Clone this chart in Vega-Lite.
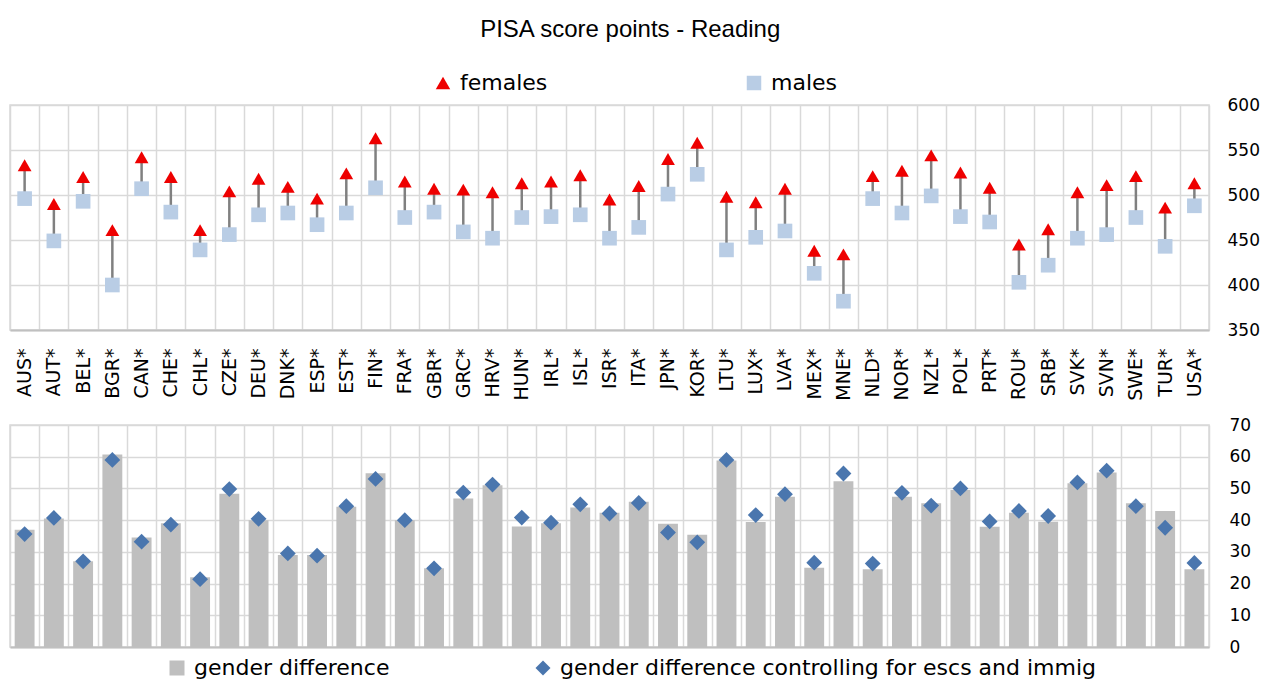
{
  "$schema": "https://vega.github.io/schema/vega-lite/v6.json",
  "background": "white",
  "padding": {"left": 0, "top": 18, "right": 0, "bottom": 0},
  "title": {"text": "PISA score points - Reading", "font": "Liberation Sans", "fontSize": 24, "fontWeight": "normal", "color": "#000000", "anchor": "middle", "offset": 29},
  "datasets": {
    "scores": [
      {"country": "AUS*", "females": 533, "males": 496},
      {"country": "AUT*", "females": 490, "males": 449},
      {"country": "BEL*", "females": 520, "males": 493},
      {"country": "BGR*", "females": 461, "males": 400},
      {"country": "CAN*", "females": 542, "males": 507},
      {"country": "CHE*", "females": 520, "males": 481},
      {"country": "CHL*", "females": 461, "males": 439},
      {"country": "CZE*", "females": 504, "males": 456},
      {"country": "DEU*", "females": 518, "males": 478},
      {"country": "DNK*", "females": 509, "males": 480},
      {"country": "ESP*", "females": 496, "males": 467},
      {"country": "EST*", "females": 524, "males": 480},
      {"country": "FIN*", "females": 563, "males": 508},
      {"country": "FRA*", "females": 515, "males": 475},
      {"country": "GBR*", "females": 507, "males": 481},
      {"country": "GRC*", "females": 506, "males": 459},
      {"country": "HRV*", "females": 503, "males": 452},
      {"country": "HUN*", "females": 513, "males": 475},
      {"country": "IRL*", "females": 515, "males": 476},
      {"country": "ISL*", "females": 522, "males": 478},
      {"country": "ISR*", "females": 495, "males": 452},
      {"country": "ITA*", "females": 510, "males": 464},
      {"country": "JPN*", "females": 540, "males": 501},
      {"country": "KOR*", "females": 558, "males": 523},
      {"country": "LTU*", "females": 498, "males": 439},
      {"country": "LUX*", "females": 492, "males": 453},
      {"country": "LVA*", "females": 507, "males": 460},
      {"country": "MEX*", "females": 438, "males": 413},
      {"country": "MNE*", "females": 434, "males": 382},
      {"country": "NLD*", "females": 521, "males": 496},
      {"country": "NOR*", "females": 527, "males": 480},
      {"country": "NZL*", "females": 544, "males": 499},
      {"country": "POL*", "females": 525, "males": 476},
      {"country": "PRT*", "females": 508, "males": 470},
      {"country": "ROU*", "females": 445, "males": 403},
      {"country": "SRB*", "females": 462, "males": 422},
      {"country": "SVK*", "females": 503, "males": 452},
      {"country": "SVN*", "females": 511, "males": 456},
      {"country": "SWE*", "females": 521, "males": 475},
      {"country": "TUR*", "females": 486, "males": 443},
      {"country": "USA*", "females": 513, "males": 488}
    ],
    "gaps": [
      {"country": "AUS*", "gap": 37, "ctrl": 35.6},
      {"country": "AUT*", "gap": 40.5, "ctrl": 40.7},
      {"country": "BEL*", "gap": 27, "ctrl": 27},
      {"country": "BGR*", "gap": 60.7, "ctrl": 59},
      {"country": "CAN*", "gap": 34.5, "ctrl": 33.2},
      {"country": "CHE*", "gap": 39, "ctrl": 38.6},
      {"country": "CHL*", "gap": 22, "ctrl": 21.4},
      {"country": "CZE*", "gap": 48.3, "ctrl": 49.8},
      {"country": "DEU*", "gap": 40, "ctrl": 40.4},
      {"country": "DNK*", "gap": 29, "ctrl": 29.5},
      {"country": "ESP*", "gap": 29, "ctrl": 28.8},
      {"country": "EST*", "gap": 44.2, "ctrl": 44.4},
      {"country": "FIN*", "gap": 54.8, "ctrl": 53},
      {"country": "FRA*", "gap": 40, "ctrl": 40},
      {"country": "GBR*", "gap": 24.8, "ctrl": 24.8},
      {"country": "GRC*", "gap": 46.8, "ctrl": 48.7},
      {"country": "HRV*", "gap": 51, "ctrl": 51.2},
      {"country": "HUN*", "gap": 38, "ctrl": 40.8},
      {"country": "IRL*", "gap": 39, "ctrl": 39.2},
      {"country": "ISL*", "gap": 44, "ctrl": 45},
      {"country": "ISR*", "gap": 42.3, "ctrl": 42.1},
      {"country": "ITA*", "gap": 45.8, "ctrl": 45.4},
      {"country": "JPN*", "gap": 38.9, "ctrl": 36.1},
      {"country": "KOR*", "gap": 35.4, "ctrl": 33},
      {"country": "LTU*", "gap": 58.8, "ctrl": 59},
      {"country": "LUX*", "gap": 39.4, "ctrl": 41.6},
      {"country": "LVA*", "gap": 47.4, "ctrl": 48.2},
      {"country": "MEX*", "gap": 25, "ctrl": 26.6},
      {"country": "MNE*", "gap": 52.3, "ctrl": 54.7},
      {"country": "NLD*", "gap": 24.5, "ctrl": 26.3},
      {"country": "NOR*", "gap": 47.4, "ctrl": 48.6},
      {"country": "NZL*", "gap": 45.3, "ctrl": 44.6},
      {"country": "POL*", "gap": 49.5, "ctrl": 50},
      {"country": "PRT*", "gap": 37.9, "ctrl": 39.6},
      {"country": "ROU*", "gap": 42.3, "ctrl": 42.9},
      {"country": "SRB*", "gap": 39.5, "ctrl": 41.3},
      {"country": "SVK*", "gap": 51.6, "ctrl": 51.9},
      {"country": "SVN*", "gap": 55, "ctrl": 55.6},
      {"country": "SWE*", "gap": 45.3, "ctrl": 44.4},
      {"country": "TUR*", "gap": 42.9, "ctrl": 37.6},
      {"country": "USA*", "gap": 24.5, "ctrl": 26.5}
    ]
  },
  "spacing": 13,
  "resolve": {
    "scale": {"color": "independent", "shape": "independent", "x": "independent"},
    "legend": {"color": "independent", "shape": "independent"}
  },
  "vconcat": [
    {
      "width": 1199,
      "height": 225,
      "data": {"name": "scores"},
      "encoding": {
        "x": {
          "field": "country", "type": "nominal", "sort": null,
          "scale": {"paddingInner": 0, "paddingOuter": 0},
          "axis": {"title": null, "labelAngle": -90, "labelFont": "DejaVu Sans", "labelFontSize": 19, "labelColor": "#000000", "labelPadding": 18, "ticks": false, "domainColor": "#C0C0C0", "domainWidth": 2, "grid": true, "tickBand": "extent", "gridColor": "#D9D9D9", "gridWidth": 1.5}
        }
      },
      "layer": [
        {
          "mark": {"type": "rule", "color": "#808080", "strokeWidth": 2.5},
          "encoding": {
            "y": {"field": "males", "type": "quantitative", "scale": {"domain": [350, 600], "nice": false, "zero": false},
              "axis": {"orient": "right", "title": null, "values": [350, 400, 450, 500, 550, 600], "labelFont": "DejaVu Sans", "labelFontSize": 17, "labelColor": "#000000", "labelPadding": 18, "ticks": false, "domain": false, "grid": true, "gridColor": "#D9D9D9", "gridWidth": 1.5}},
            "y2": {"field": "females"}
          }
        },
        {
          "mark": {"type": "point", "filled": true, "size": 215, "opacity": 1},
          "encoding": {
            "y": {"field": "males", "type": "quantitative",
              "axis": {"orient": "right", "title": null, "values": [350, 400, 450, 500, 550, 600], "labelFont": "DejaVu Sans", "labelFontSize": 17, "labelColor": "#000000", "labelPadding": 18, "ticks": false, "domain": false, "grid": true, "gridColor": "#D9D9D9", "gridWidth": 1.5}},
            "color": {"datum": "males", "type": "nominal",
              "scale": {"domain": ["females", "males"], "range": ["#EE0000", "#B9CDE5"]},
              "legend": {"orient": "none", "legendX": 422, "legendY": -33, "direction": "horizontal", "columns": 2, "columnPadding": 195, "title": null, "labelFont": "DejaVu Sans", "labelFontSize": 22, "labelColor": "#000000", "labelLimit": 0, "symbolSize": 210, "labelOffset": 6, "symbolStrokeWidth": 0}},
            "shape": {"datum": "males", "type": "nominal",
              "scale": {"domain": ["females", "males"], "range": ["triangle-up", "square"]},
              "legend": {"orient": "none", "legendX": 422, "legendY": -33, "direction": "horizontal", "columns": 2, "columnPadding": 195, "title": null, "labelFont": "DejaVu Sans", "labelFontSize": 22, "labelColor": "#000000", "labelLimit": 0, "symbolSize": 210, "labelOffset": 6, "symbolStrokeWidth": 0}}
          }
        },
        {
          "mark": {"type": "point", "filled": true, "size": 190, "opacity": 1},
          "encoding": {
            "y": {"field": "females", "type": "quantitative",
              "axis": {"orient": "right", "title": null, "values": [350, 400, 450, 500, 550, 600], "labelFont": "DejaVu Sans", "labelFontSize": 17, "labelColor": "#000000", "labelPadding": 18, "ticks": false, "domain": false, "grid": true, "gridColor": "#D9D9D9", "gridWidth": 1.5}},
            "color": {"datum": "females", "type": "nominal"},
            "shape": {"datum": "females", "type": "nominal"}
          }
        }
      ]
    },
    {
      "width": 1199,
      "height": 222,
      "data": {"name": "gaps"},
      "encoding": {
        "x": {
          "field": "country", "type": "nominal", "sort": null,
          "scale": {"paddingInner": 0, "paddingOuter": 0},
          "axis": {"title": null, "labels": false, "ticks": false, "domainColor": "#C0C0C0", "domainWidth": 2, "grid": true, "tickBand": "extent", "gridColor": "#D9D9D9", "gridWidth": 1.5}
        }
      },
      "layer": [
        {
          "mark": {"type": "bar", "width": {"band": 0.68}},
          "encoding": {
            "y": {"field": "gap", "type": "quantitative", "scale": {"domain": [0, 70], "nice": false},
              "axis": {"orient": "right", "title": null, "values": [0, 10, 20, 30, 40, 50, 60, 70], "labelFont": "DejaVu Sans", "labelFontSize": 17, "labelColor": "#000000", "labelPadding": 20, "ticks": false, "domain": false, "grid": true, "gridColor": "#D9D9D9", "gridWidth": 1.5}},
            "color": {"datum": "gender difference", "type": "nominal",
              "scale": {"domain": ["gender difference", "gender difference controlling for escs and immig"], "range": ["#BFBFBF", "#4A76AE"]},
              "legend": {"orient": "none", "legendX": 156, "legendY": 232, "direction": "horizontal", "columns": 2, "columnPadding": 142, "title": null, "labelFont": "DejaVu Sans", "labelFontSize": 22, "labelColor": "#000000", "labelLimit": 0, "symbolSize": 225, "labelOffset": 6, "symbolStrokeWidth": 0}}
          }
        },
        {
          "mark": {"type": "point", "filled": true, "size": 250, "opacity": 1},
          "encoding": {
            "y": {"field": "ctrl", "type": "quantitative",
              "axis": {"orient": "right", "title": null, "values": [0, 10, 20, 30, 40, 50, 60, 70], "labelFont": "DejaVu Sans", "labelFontSize": 17, "labelColor": "#000000", "labelPadding": 20, "ticks": false, "domain": false, "grid": true, "gridColor": "#D9D9D9", "gridWidth": 1.5}},
            "color": {"datum": "gender difference controlling for escs and immig", "type": "nominal"},
            "shape": {"datum": "gender difference controlling for escs and immig", "type": "nominal",
              "scale": {"domain": ["gender difference", "gender difference controlling for escs and immig"], "range": ["square", "diamond"]},
              "legend": {"orient": "none", "legendX": 156, "legendY": 232, "direction": "horizontal", "columns": 2, "columnPadding": 142, "title": null, "labelFont": "DejaVu Sans", "labelFontSize": 22, "labelColor": "#000000", "labelLimit": 0, "symbolSize": 225, "labelOffset": 6, "symbolStrokeWidth": 0}}
          }
        }
      ]
    }
  ],
  "config": {
    "view": {"stroke": "#D9D9D9", "strokeWidth": 1.5}
  }
}
